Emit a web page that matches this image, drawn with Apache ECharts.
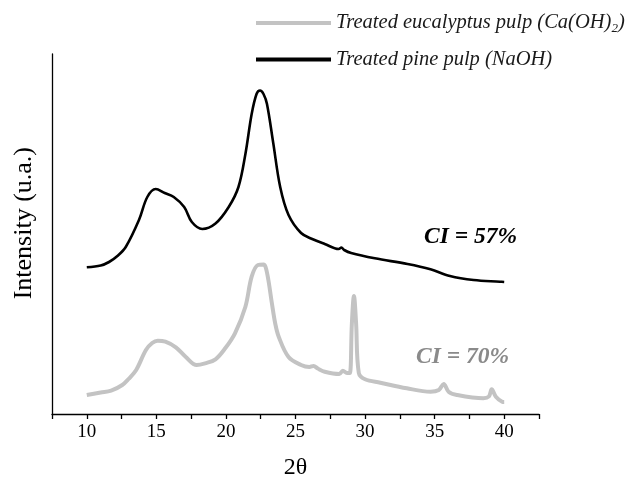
<!DOCTYPE html>
<html>
<head>
<meta charset="utf-8">
<script src="https://cdn.jsdelivr.net/npm/echarts@6/dist/echarts.min.js"></script>
<style>html,body{margin:0;padding:0;background:#fff}#c{width:642px;height:486px}</style>
</head>
<body>
<div id="c"></div>
<script>
// 2θ values and intensities (arbitrary units)
var pineX = [10.0, 11.0, 11.6, 12.2, 12.8, 13.75, 14.35, 14.95, 15.6, 16.25, 17.0, 17.55, 18.3, 19.25, 20.2, 20.9, 21.4, 21.85, 22.2, 22.45, 22.7, 22.95, 23.4, 23.9, 24.5, 25.4, 26.2, 27.1, 28.1, 28.3, 28.5, 29.0, 30.7, 33.05, 34.7, 36.1, 37.8, 39.7, 40.0];
var pineY = [146.7, 148.5, 152, 158, 167, 194, 217, 225, 221, 217, 207, 192, 185, 190.5, 207, 227, 260, 300, 320, 323.5, 320, 310, 271, 227, 199, 181, 175, 170, 165, 166.5, 164, 161, 155.7, 150, 144.7, 138, 134, 132.3, 132];

var eucX = [10.0, 11.0, 11.75, 12.55, 13.0, 13.55, 14.25, 14.7, 15.1, 15.65, 16.4, 17.1, 17.9, 18.5, 19.25, 19.95, 20.65, 21.4, 21.85, 22.3, 22.7, 22.85, 23.05, 23.3, 23.55, 23.8, 24.5, 25.4, 26.0, 26.3, 26.6, 27.1, 28.15, 28.4, 28.7, 28.9, 29.05, 29.2, 29.35, 29.55, 30.0, 31.1, 33.0, 34.7, 35.3, 35.65, 36.0, 36.6, 38.5, 38.9, 39.1, 39.4, 39.85, 40.0];
var eucY = [19, 21.5, 23.3, 29, 35, 44, 64, 71, 73.3, 72.3, 66.7, 57.3, 49, 50.7, 54.7, 65.7, 80.7, 107.3, 137.3, 149, 149.5, 147, 134, 111, 90, 77, 57, 49, 47, 48, 45.5, 42.3, 40, 43.3, 41, 41, 90, 118, 92, 41, 34.7, 31.3, 25.7, 22.3, 24, 30, 22.3, 19, 15.7, 17.5, 24.7, 17.3, 12.3, 12];

var seriesNames = ['Treated eucalyptus pulp (Ca(OH)2)', 'Treated pine pulp (NaOH)'];
var ciLabels = ['CI = 70%', 'CI = 57%'];
var xTicks = [10, 15, 20, 25, 30, 35, 40];

function pairs(xs, ys) { return xs.map(function (x, i) { return [x, ys[i]]; }); }

var serif = '"Liberation Serif", "DejaVu Serif", serif';
var chart = echarts.init(document.getElementById('c'));
chart.setOption({
  animation: false,
  backgroundColor: '#fff',
  grid: { left: 52, right: 103, top: 54, bottom: 72, containLabel: false },
  legend: {
    orient: 'vertical', left: 256, top: 13, padding: 0, itemWidth: 75, itemHeight: 4, itemGap: 14,
    icon: 'rect',
    data: [
      { name: seriesNames[0], itemStyle: { color: '#c3c3c3' } },
      { name: seriesNames[1], itemStyle: { color: '#000' } }
    ],
    formatter: function (n) {
      if (n === seriesNames[0]) return 'Treated eucalyptus pulp (Ca(OH){sub|2})';
      return n;
    },
    textStyle: {
      fontFamily: serif, fontStyle: 'italic', fontSize: 20.5, color: '#1a1a1a',
      rich: { sub: { fontFamily: serif, fontStyle: 'italic', fontSize: 13, color: '#1a1a1a', verticalAlign: 'bottom', padding: [12, 0, 0, 0] } }
    }
  },
  xAxis: {
    type: 'value', min: 7.5, max: 42.5, interval: 2.5,
    axisLine: { lineStyle: { color: '#000', width: 1.3 } },
    axisTick: { show: true, length: 5, lineStyle: { color: '#000', width: 1.3 } },
    axisLabel: {
      margin: 9, fontFamily: serif, fontSize: 19, color: '#000',
      formatter: function (v) { return xTicks.indexOf(v) >= 0 ? String(v) : ''; }
    },
    splitLine: { show: false },
    name: '2θ', nameLocation: 'middle', nameGap: 42,
    nameTextStyle: { fontFamily: serif, fontSize: 24, color: '#000' }
  },
  yAxis: {
    type: 'value', min: 0, max: 360,
    axisLine: { show: true, lineStyle: { color: '#000', width: 1.3 } },
    axisTick: { show: false }, axisLabel: { show: false }, splitLine: { show: false }
  },
  graphic: [
    { type: 'text', left: 11, top: 147, rotation: Math.PI / 2,
      style: { text: 'Intensity (u.a.)', font: '26px ' + serif, fill: '#000' } },
    { type: 'text', left: 424, top: 225,
      style: { text: ciLabels[1], font: 'italic bold 23.5px ' + serif, fill: '#000' } },
    { type: 'text', left: 416, top: 345,
      style: { text: ciLabels[0], font: 'italic bold 23.5px ' + serif, fill: '#8a8a8a' } }
  ],
  series: [
    { name: seriesNames[0], type: 'line', data: pairs(eucX, eucY), showSymbol: false, symbol: 'none', smooth: 0.35,
      lineStyle: { color: '#c3c3c3', width: 4 }, itemStyle: { color: '#c3c3c3' } },
    { name: seriesNames[1], type: 'line', data: pairs(pineX, pineY), showSymbol: false, symbol: 'none', smooth: 0.35,
      lineStyle: { color: '#000', width: 2.6 }, itemStyle: { color: '#000' } }
  ]
});
</script>
</body>
</html>
